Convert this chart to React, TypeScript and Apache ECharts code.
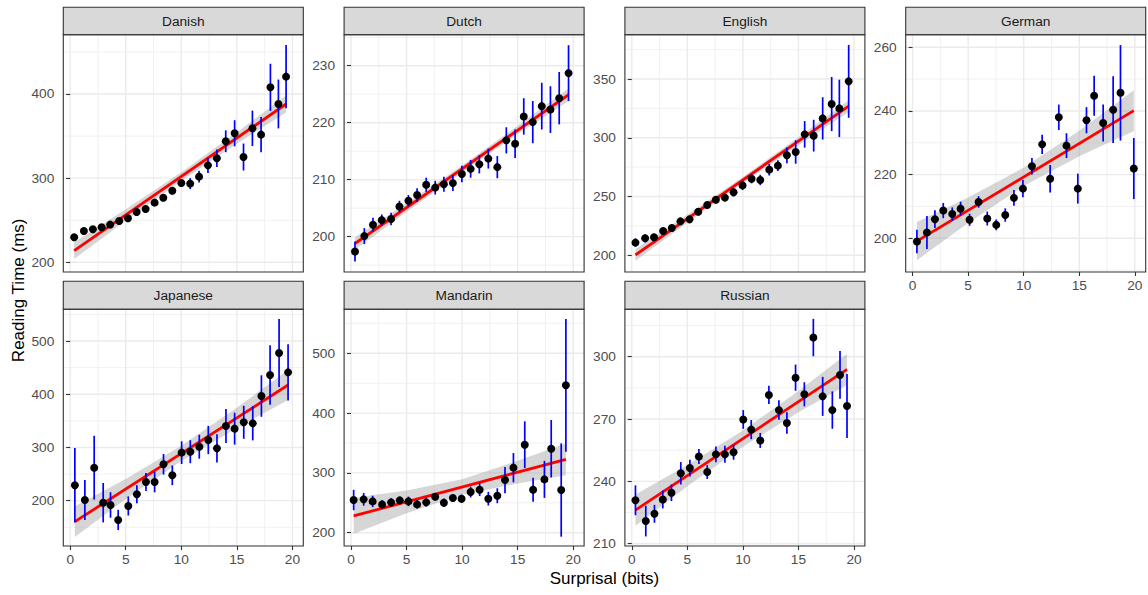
import React, { useEffect, useRef } from "react";
import * as echarts from "echarts";

const FONT = '"Liberation Sans", Arial, Helvetica, sans-serif';

// ---------- shared x scale ----------
const xTicks = [0, 5, 10, 15, 20];
const xMinorTicks = [2.5, 7.5, 12.5, 17.5];
const xLimits = [-0.62, 20.98];

// ---------- Danish ----------
const danishSurprisal = [0.36, 1.23, 2.04, 2.83, 3.6, 4.41, 5.2, 5.98, 6.79, 7.6, 8.38, 9.19, 10.0, 10.8, 11.6, 12.4, 13.2, 14.0, 14.8, 15.6, 16.4, 17.18, 18.02, 18.74, 19.43];
const danishRT = [229.7, 237.2, 239.2, 241.6, 244.8, 249.1, 252.3, 259.8, 263.4, 270.9, 276.8, 285.1, 294.3, 293.5, 301.8, 315.2, 323.6, 343.8, 353.3, 325.1, 359.2, 351.7, 407.9, 388.1, 420.6];
const danishErr = [2, 2, 2, 2, 2, 2, 2.5, 3, 3, 3, 3.5, 4, 4.5, 6.5, 7, 9, 10.5, 13, 15.5, 16, 21, 21, 28, 29, 37.5];
const danishFitX = [0.36, 19.43];
const danishFitY = [213.9, 388.1];
const danishBandX = [0.36, 5, 10, 15, 19.43];
const danishBandLo = [203.9, 249.5, 296.7, 340.8, 378.1];
const danishBandHi = [223.9, 263.1, 307.1, 354.4, 398.1];
const danishYTicks = [200, 300, 400];
const danishYMinor = [250, 350, 450];
const danishYLimits = [188.5, 470.4];

// ---------- Dutch ----------
const dutchSurprisal = [0.36, 1.2, 1.98, 2.77, 3.61, 4.36, 5.17, 5.95, 6.77, 7.58, 8.36, 9.17, 9.98, 10.77, 11.55, 12.36, 13.17, 13.98, 14.77, 15.55, 16.36, 17.17, 17.95, 18.74, 19.58];
const dutchRT = [197.4, 200.1, 202.1, 202.9, 203.1, 205.3, 206.3, 207.3, 209.1, 208.6, 209.2, 209.4, 211.0, 211.9, 212.7, 213.7, 212.2, 216.9, 216.3, 221.1, 220.1, 222.9, 222.3, 224.3, 228.7];
const dutchErr = [1.75, 1.4, 1.2, 1.0, 1.1, 1.0, 1.0, 1.2, 1.25, 1.2, 1.3, 1.4, 1.45, 1.55, 1.6, 1.75, 1.95, 2.3, 2.5, 3.2, 3.7, 4.1, 4.1, 4.6, 4.9];
const dutchFitX = [0.36, 19.58];
const dutchFitY = [198.8, 224.9];
const dutchBandX = [0.36, 5, 10, 15, 19.58];
const dutchBandLo = [197.7, 204.35, 211.3, 217.95, 223.8];
const dutchBandHi = [199.9, 205.85, 212.5, 219.45, 226.0];
const dutchYTicks = [200, 210, 220, 230];
const dutchYMinor = [195, 205, 215, 225, 235];
const dutchYLimits = [193.8, 235.44];

// ---------- English ----------
const englishSurprisal = [0.33, 1.2, 2.0, 2.82, 3.6, 4.38, 5.2, 5.98, 6.79, 7.57, 8.38, 9.16, 9.97, 10.78, 11.56, 12.37, 13.15, 13.96, 14.75, 15.56, 16.37, 17.18, 17.99, 18.68, 19.52];
const englishRT = [210.8, 214.5, 215.3, 220.7, 223.2, 228.9, 230.6, 237.1, 242.8, 247.3, 249.1, 253.6, 259.5, 265.2, 264.1, 272.9, 276.3, 285.1, 287.9, 302.9, 301.8, 316.5, 328.7, 325.0, 348.0];
const englishErr = [3.5, 3.5, 3, 3, 3, 3, 3, 3, 3, 3, 3, 3.5, 4, 4, 4.4, 5, 4.5, 6.7, 10, 11.3, 13.5, 18, 23, 24.4, 31];
const englishFitX = [0.33, 19.52];
const englishFitY = [200.3, 327.0];
const englishBandX = [0.33, 5, 10, 15, 19.52];
const englishBandLo = [195.3, 227.7, 261.5, 293.7, 322];
const englishBandHi = [205.3, 234.5, 266.7, 300.5, 332];
const englishYTicks = [200, 250, 300, 350];
const englishYMinor = [225, 275, 325, 375];
const englishYLimits = [185.8, 387.7];

// ---------- German ----------
const germanSurprisal = [0.39, 1.29, 2.01, 2.76, 3.57, 4.32, 5.13, 5.94, 6.72, 7.53, 8.34, 9.12, 9.93, 10.74, 11.66, 12.38, 13.16, 13.85, 14.87, 15.65, 16.34, 17.15, 18.05, 18.71, 19.91];
const germanRT = [199.0, 201.8, 206.0, 208.7, 207.6, 209.3, 205.8, 211.4, 206.2, 204.2, 207.3, 212.7, 215.6, 222.6, 229.5, 218.7, 238.0, 229.1, 215.6, 237.1, 244.8, 236.2, 240.4, 245.7, 221.9];
const germanErr = [3.7, 5.2, 2.8, 2.4, 2.1, 2.2, 1.9, 1.8, 2.2, 1.7, 2.1, 2.5, 2.7, 2.6, 3.0, 4.3, 4.0, 3.9, 4.7, 4.1, 6.3, 5.8, 10.5, 15, 9.6];
const germanFitX = [0.39, 19.91];
const germanFitY = [199.1, 240.1];
const germanBandX = [0.39, 5, 10, 15, 19.91];
const germanBandLo = [193.1, 204.8, 216.4, 225.8, 233.7];
const germanBandHi = [205.1, 212.8, 222.2, 233.8, 246.5];
const germanYTicks = [200, 220, 240, 260];
const germanYMinor = [190, 210, 230, 250];
const germanYLimits = [189.4, 263.96];

// ---------- Japanese ----------
const japaneseSurprisal = [0.42, 1.32, 2.16, 2.97, 3.63, 4.32, 5.23, 6.0, 6.82, 7.6, 8.4, 9.19, 10.03, 10.81, 11.62, 12.43, 13.21, 14.02, 14.8, 15.62, 16.43, 17.21, 17.99, 18.8, 19.61];
const japaneseRT = [228.8, 201.3, 262.0, 196.2, 191.9, 163.7, 190.0, 211.9, 235.1, 235.1, 268.3, 247.6, 290.2, 292.0, 301.4, 314.0, 298.3, 340.3, 335.3, 347.2, 345.3, 396.6, 436.1, 477.4, 441.1];
const japaneseErr = [70, 37.6, 60, 37, 24, 19, 18, 17, 17, 19.4, 19.4, 18.5, 21.3, 21.6, 22.5, 26.6, 26.6, 32, 30, 31, 32, 39, 56, 64, 53];
const japaneseFitX = [0.42, 19.61];
const japaneseFitY = [160.6, 417.3];
const japaneseBandX = [0.42, 5, 10, 15, 19.61];
const japaneseBandLo = [131.6, 202.9, 274.3, 336.7, 389.3];
const japaneseBandHi = [189.6, 240.9, 303.3, 374.7, 445.3];
const japaneseYTicks = [200, 300, 400, 500];
const japaneseYMinor = [150, 250, 350, 450, 550];
const japaneseYLimits = [114.8, 559.6];

// ---------- Mandarin ----------
const mandarinSurprisal = [0.24, 1.14, 1.95, 2.8, 3.61, 4.39, 5.17, 5.95, 6.77, 7.58, 8.36, 9.17, 9.95, 10.77, 11.58, 12.36, 13.17, 13.86, 14.62, 15.64, 16.39, 17.41, 18.02, 18.92, 19.34];
const mandarinRT = [254.7, 255.8, 252.4, 247.4, 250.8, 254.1, 252.4, 247.4, 250.8, 260.2, 250.2, 258.0, 256.9, 268.0, 271.9, 256.9, 261.9, 288.1, 308.8, 347.2, 271.9, 289.2, 340.5, 271.4, 446.5];
const mandarinErr = [17, 10.6, 9.5, 7, 7, 6, 8, 7, 7, 6, 7, 6, 7, 9, 10.6, 11.4, 12.5, 22, 24.5, 39, 20, 31, 48, 78, 111];
const mandarinFitX = [0.24, 19.34];
const mandarinFitY = [228.1, 322.7];
const mandarinBandX = [0.24, 5, 10, 15, 19.34];
const mandarinBandLo = [198.4, 232.7, 263.4, 282.2, 296.2];
const mandarinBandHi = [258.4, 270.7, 289.4, 320.2, 349.2];
const mandarinYTicks = [200, 300, 400, 500];
const mandarinYMinor = [250, 350, 450, 550];
const mandarinYLimits = [177.8, 573.6];

// ---------- Russian ----------
const russianSurprisal = [0.33, 1.26, 2.04, 2.79, 3.57, 4.41, 5.23, 6.04, 6.79, 7.57, 8.38, 9.16, 10.03, 10.75, 11.56, 12.34, 13.24, 13.96, 14.74, 15.53, 16.34, 17.18, 18.05, 18.74, 19.37];
const russianRT = [230.9, 220.9, 224.4, 231.3, 234.5, 243.9, 246.4, 252.0, 244.5, 253.0, 253.0, 254.0, 269.8, 264.9, 259.7, 281.6, 274.3, 268.1, 289.9, 281.9, 309.2, 280.9, 274.3, 291.2, 276.3];
const russianErr = [7.2, 7.4, 4.3, 4.3, 4, 5.4, 4, 3.6, 3.3, 3.8, 4.1, 3.6, 4.5, 4.6, 3.6, 4.4, 4.7, 5.2, 6.3, 5.8, 9, 9.4, 9, 11.5, 15.4];
const russianFitX = [0.33, 19.37];
const russianFitY = [226.2, 293.9];
const russianBandX = [0.33, 5, 10, 15, 19.37];
const russianBandLo = [218.7, 237.7, 256.7, 273.3, 286.4];
const russianBandHi = [233.7, 247.9, 264.5, 283.5, 301.4];
const russianYTicks = [210, 240, 270, 300];
const russianYMinor = [225, 255, 285, 315];
const russianYLimits = [208.9, 322.8];

const panels = [
  { name: "Danish", x: danishSurprisal, y: danishRT, err: danishErr, fitX: danishFitX, fitY: danishFitY, bandX: danishBandX, bandLo: danishBandLo, bandHi: danishBandHi, yTicks: danishYTicks, yMinor: danishYMinor, yLim: danishYLimits, showX: false },
  { name: "Dutch", x: dutchSurprisal, y: dutchRT, err: dutchErr, fitX: dutchFitX, fitY: dutchFitY, bandX: dutchBandX, bandLo: dutchBandLo, bandHi: dutchBandHi, yTicks: dutchYTicks, yMinor: dutchYMinor, yLim: dutchYLimits, showX: false },
  { name: "English", x: englishSurprisal, y: englishRT, err: englishErr, fitX: englishFitX, fitY: englishFitY, bandX: englishBandX, bandLo: englishBandLo, bandHi: englishBandHi, yTicks: englishYTicks, yMinor: englishYMinor, yLim: englishYLimits, showX: false },
  { name: "German", x: germanSurprisal, y: germanRT, err: germanErr, fitX: germanFitX, fitY: germanFitY, bandX: germanBandX, bandLo: germanBandLo, bandHi: germanBandHi, yTicks: germanYTicks, yMinor: germanYMinor, yLim: germanYLimits, showX: true },
  { name: "Japanese", x: japaneseSurprisal, y: japaneseRT, err: japaneseErr, fitX: japaneseFitX, fitY: japaneseFitY, bandX: japaneseBandX, bandLo: japaneseBandLo, bandHi: japaneseBandHi, yTicks: japaneseYTicks, yMinor: japaneseYMinor, yLim: japaneseYLimits, showX: true },
  { name: "Mandarin", x: mandarinSurprisal, y: mandarinRT, err: mandarinErr, fitX: mandarinFitX, fitY: mandarinFitY, bandX: mandarinBandX, bandLo: mandarinBandLo, bandHi: mandarinBandHi, yTicks: mandarinYTicks, yMinor: mandarinYMinor, yLim: mandarinYLimits, showX: true },
  { name: "Russian", x: russianSurprisal, y: russianRT, err: russianErr, fitX: russianFitX, fitY: russianFitY, bandX: russianBandX, bandLo: russianBandLo, bandHi: russianBandHi, yTicks: russianYTicks, yMinor: russianYMinor, yLim: russianYLimits, showX: true },
];

// ---------- layout ----------
const PANEL_W = 240;
const PANEL_LEFT = [63.3, 344.1, 624.9, 905.7];
const ROW_TOP = [34.7, 309.3];
const ROW_H = [237.3, 236.7];
const STRIP_H = [27.4, 28];

function buildOption() {
  const grid: any[] = [];
  const xAxis: any[] = [];
  const yAxis: any[] = [];
  const series: any[] = [];
  const graphic: any[] = [];

  panels.forEach((p, i) => {
    const col = i % 4;
    const row = Math.floor(i / 4);
    const left = PANEL_LEFT[col];
    const top = ROW_TOP[row];
    const h = ROW_H[row];
    grid.push({ left, top, width: PANEL_W, height: h, containLabel: false, outerBoundsMode: "none" });

    xAxis.push({
      gridIndex: i,
      type: "value",
      min: xLimits[0],
      max: xLimits[1],
      show: p.showX,
      splitLine: { show: false },
      axisLine: { show: false },
      axisTick: { show: p.showX, length: 4, lineStyle: { color: "#333333", width: 1.1 }, customValues: xTicks },
      axisLabel: { show: p.showX, customValues: xTicks, color: "#4d4d4d", fontSize: 13.7, fontFamily: FONT, margin: 6 },
    });
    yAxis.push({
      gridIndex: i,
      type: "value",
      min: p.yLim[0],
      max: p.yLim[1],
      splitLine: { show: false },
      axisLine: { show: false },
      axisTick: { show: true, length: 4, lineStyle: { color: "#333333", width: 1.1 }, customValues: p.yTicks },
      axisLabel: { customValues: p.yTicks, color: "#4d4d4d", fontSize: 13.7, fontFamily: FONT, margin: 9 },
    });

    // grid lines
    const gridItems = [
      ...xMinorTicks.map((v) => ({ dir: "x", v, major: false })),
      ...p.yMinor.map((v) => ({ dir: "y", v, major: false })),
      ...xTicks.map((v) => ({ dir: "x", v, major: true })),
      ...p.yTicks.map((v) => ({ dir: "y", v, major: true })),
    ];
    const yLo = p.yLim[0];
    series.push({
      type: "custom",
      xAxisIndex: i,
      yAxisIndex: i,
      z: 0,
      silent: true,
      data: gridItems.map((g) => [g.dir === "x" ? g.v : 0, g.dir === "y" ? g.v : yLo]),
      renderItem: (params: any, api: any) => {
        const g = gridItems[params.dataIndex];
        const cs = params.coordSys;
        const lw = g.major ? 1.4 : 0.7;
        if (g.dir === "x") {
          const px = api.coord([g.v, yLo])[0];
          if (px < cs.x || px > cs.x + cs.width) return null;
          return { type: "line", shape: { x1: px, y1: cs.y, x2: px, y2: cs.y + cs.height }, style: { stroke: "#ebebeb", lineWidth: lw } };
        }
        const py = api.coord([0, g.v])[1];
        if (py < cs.y || py > cs.y + cs.height) return null;
        return { type: "line", shape: { x1: cs.x, y1: py, x2: cs.x + cs.width, y2: py }, style: { stroke: "#ebebeb", lineWidth: lw } };
      },
    });

    // confidence band
    series.push({
      type: "custom",
      xAxisIndex: i,
      yAxisIndex: i,
      z: 1,
      silent: true,
      data: p.bandX.map((x, k) => [x, p.bandLo[k], p.bandHi[k]]),
      renderItem: (params: any, api: any) => {
        if (params.dataIndex !== 0) return null;
        const upper = p.bandX.map((x, k) => api.coord([x, p.bandHi[k]]));
        const lower = p.bandX.map((x, k) => api.coord([x, p.bandLo[k]])).reverse();
        return { type: "polygon", shape: { points: upper.concat(lower) }, style: { fill: "rgba(153,153,153,0.4)" } };
      },
    });

    // fit line
    series.push({
      type: "line",
      xAxisIndex: i,
      yAxisIndex: i,
      z: 2,
      silent: true,
      showSymbol: false,
      symbol: "none",
      data: p.fitX.map((x, k) => [x, p.fitY[k]]),
      lineStyle: { color: "#ff0000", width: 2.8 },
    });

    // error bars
    series.push({
      type: "custom",
      xAxisIndex: i,
      yAxisIndex: i,
      z: 3,
      silent: true,
      data: p.x.map((x, k) => [x, p.y[k] - p.err[k], p.y[k] + p.err[k]]),
      renderItem: (params: any, api: any) => {
        const a = api.coord([api.value(0), api.value(1)]);
        const b = api.coord([api.value(0), api.value(2)]);
        return { type: "line", shape: { x1: a[0], y1: a[1], x2: b[0], y2: b[1] }, style: { stroke: "#0000ff", lineWidth: 1.7 } };
      },
    });

    // points
    series.push({
      type: "scatter",
      xAxisIndex: i,
      yAxisIndex: i,
      z: 4,
      silent: true,
      symbolSize: 8,
      itemStyle: { color: "#000000", opacity: 1 },
      data: p.x.map((x, k) => [x, p.y[k]]),
    });

    // strip
    const sh = STRIP_H[row];
    graphic.push({
      type: "rect",
      z: 100,
      silent: true,
      shape: { x: left, y: top - sh, width: PANEL_W, height: sh },
      style: { fill: "#d9d9d9", stroke: "#333333", lineWidth: 1.1 },
    });
    graphic.push({
      type: "text",
      z: 101,
      silent: true,
      x: left + PANEL_W / 2,
      y: top - sh / 2,
      style: { text: p.name, fill: "#1a1a1a", fontSize: 13.7, fontFamily: FONT, textAlign: "center", textVerticalAlign: "middle", align: "center", verticalAlign: "middle" },
    });
    // panel border
    graphic.push({
      type: "rect",
      z: 100,
      silent: true,
      shape: { x: left, y: top, width: PANEL_W, height: h },
      style: { fill: "none", stroke: "#333333", lineWidth: 1.1 },
    });
  });

  graphic.push({
    type: "text",
    z: 101,
    silent: true,
    x: (PANEL_LEFT[0] + PANEL_LEFT[3] + PANEL_W) / 2,
    y: 578,
    style: { text: "Surprisal (bits)", fill: "#000000", fontSize: 17, fontFamily: FONT, textAlign: "center", textVerticalAlign: "middle", align: "center", verticalAlign: "middle" },
  });
  graphic.push({
    type: "text",
    z: 101,
    silent: true,
    x: 18,
    y: (ROW_TOP[0] + ROW_TOP[1] + ROW_H[1]) / 2,
    rotation: Math.PI / 2,
    style: { text: "Reading Time (ms)", fill: "#000000", fontSize: 17, fontFamily: FONT, textAlign: "center", textVerticalAlign: "middle", align: "center", verticalAlign: "middle" },
  });

  return {
    animation: false,
    backgroundColor: "#ffffff",
    textStyle: { fontFamily: FONT },
    grid,
    xAxis,
    yAxis,
    series,
    graphic,
  };
}

export default function App() {
  const ref = useRef<HTMLDivElement>(null);
  useEffect(() => {
    if (!ref.current) return;
    const chart = echarts.init(ref.current, undefined, { renderer: "svg" });
    chart.setOption(buildOption() as any);
    return () => {
      chart.dispose();
    };
  }, []);
  return <div ref={ref} style={{ position: "absolute", left: 0, top: 0, width: 1148, height: 595, background: "#fff" }} />;
}
